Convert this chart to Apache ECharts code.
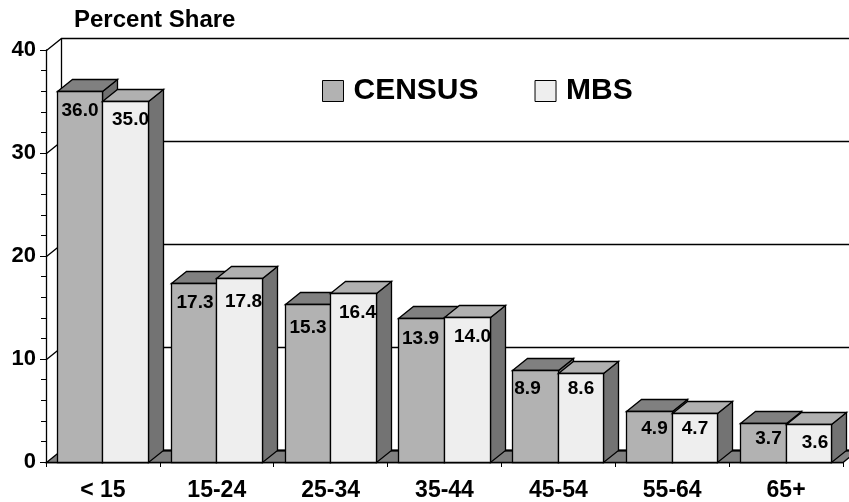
<!DOCTYPE html>
<html><head><meta charset="utf-8">
<script src="https://cdn.jsdelivr.net/npm/echarts@6/dist/echarts.min.js"></script>
<style>html,body{margin:0;padding:0;background:#fff}#c{width:849px;height:502px}</style>
</head><body><div id="c"></div>
<script>
const categories = ['< 15','15-24','25-34','35-44','45-54','55-64','65+'];
const census = [36.0,17.3,15.3,13.9,8.9,4.9,3.7];
const mbs = [35.0,17.8,16.4,14.0,8.6,4.7,3.6];
const yTicks = [0,10,20,30,40];
// hand-placed label nudges from the reference: [dx from bar centre, dy from bar top]
const censusNudge = [[0,19],[1,19],[0,23],[-1,20],[-8,18],[5,17],[5,15]];
const mbsNudge = [[5,18],[4,23],[4,19],[5,19],[0,15],[0,15],[6,18]];

const FONT = '"Liberation Sans", Arial, sans-serif';
const DX = 15, DY = -12;
const LW = 1.3;
const crisp = v => Math.floor(v) + 0.5;

function wallItem(params, api) {
  const cs = params.coordSys;
  const y = crisp(api.coord([0, api.value(1)])[1]);
  const v = api.value(1);
  const x0 = crisp(cs.x), x1 = crisp(cs.x + DX), xr = cs.x + cs.width + DX;
  const yb = y + DY;
  const children = [];
  if (v === 0) {
    children.push({type:'polygon', shape:{points:[[x0,y],[x1,yb],[xr,yb],[xr-DX,y]]},
      style:{fill:'#808080', stroke:'#000', lineWidth:LW}});
    children.push({type:'line', shape:{x1:x1,y1:yb,x2:xr,y2:yb}, style:{stroke:'#000', lineWidth:2}});
  } else {
    children.push({type:'polyline', shape:{points:[[x0,y],[x1,yb],[xr,yb]]},
      style:{fill:null, stroke:'#000', lineWidth:LW}});
  }
  if (v === yTicks[yTicks.length-1]) {
    const yBottom = crisp(api.coord([0,0])[1]) + DY;
    children.push({type:'line', shape:{x1:x1,y1:yb,x2:x1,y2:yBottom}, style:{stroke:'#000', lineWidth:LW}});
  }
  return {type:'group', children};
}

function barItem(side, front, top, wall, nudges) {
  return function (params, api) {
    const i = api.value(0), v = api.value(1);
    const base = api.coord([i, 0]);
    const topPt = api.coord([i, v]);
    const band = api.size([1, 0])[0];
    const w = band * 0.4;
    const a = crisp(base[0] + (side < 0 ? -w : 0));
    const b = crisp(base[0] + (side < 0 ? 0 : w));
    const yt = crisp(topPt[1]), yb = crisp(base[1]);
    const n = nudges[i];
    const line = {stroke:'#000', lineWidth:LW, lineJoin:'miter'};
    return {type:'group', children:[
      {type:'polygon', shape:{points:[[b,yt],[b+DX,yt+DY],[b+DX,yb+DY],[b,yb]]}, style:Object.assign({fill:wall},line)},
      {type:'polygon', shape:{points:[[a,yt],[a+DX,yt+DY],[b+DX,yt+DY],[b,yt]]}, style:Object.assign({fill:top},line)},
      {type:'rect', shape:{x:a,y:yt,width:b-a,height:yb-yt}, style:Object.assign({fill:front},line)},
      {type:'text', style:{text:v.toFixed(1), x:(a+b)/2+n[0], y:yt+n[1], align:'center', verticalAlign:'middle',
        font:'bold 19px '+FONT, fill:'#000'}}
    ]};
  };
}

const chart = echarts.init(document.getElementById('c'), null, {renderer:'canvas'});
chart.setOption({
  animation:false,
  backgroundColor:'#fff',
  title:{text:'Percent Share', left:74, top:8, padding:0,
    textStyle:{fontFamily:FONT, fontWeight:'bold', fontSize:24, color:'#000'}},
  grid:{left:46, right:6, top:50, bottom:40},
  legend:{data:['CENSUS','MBS'], left:322, top:76, padding:0, itemWidth:21, itemHeight:21, itemGap:56,
    icon:'rect', selectedMode:false,
    itemStyle:{borderColor:'#000', borderWidth:1},
    textStyle:{fontFamily:FONT, fontWeight:'bold', fontSize:30, color:'#000', padding:[0,0,0,5]}},
  xAxis:{type:'category', data:categories, boundaryGap:true,
    axisLine:{show:true, lineStyle:{color:'#000', width:LW}},
    axisTick:{show:true, length:5, lineStyle:{color:'#000'}},
    axisLabel:{interval:0, margin:17, fontFamily:FONT, fontWeight:'bold', fontSize:23, color:'#000'}},
  yAxis:{type:'value', min:0, max:40, interval:10,
    splitLine:{show:false},
    axisLine:{show:true, lineStyle:{color:'#000', width:LW}},
    axisTick:{show:true, length:6, lineStyle:{color:'#000'}},
    minorTick:{show:true, splitNumber:5, length:5, lineStyle:{color:'#000'}},
    axisLabel:{margin:10, fontFamily:FONT, fontWeight:'bold', fontSize:22, color:'#000'}},
  series:[
    {type:'custom', name:'wall', silent:true, renderItem:wallItem, encode:{x:0,y:1},
      data:yTicks.map(v=>[0,v]), z:1},
    {type:'custom', name:'CENSUS', renderItem:barItem(-1,'#b2b2b2','#808080','#707070',censusNudge),
      encode:{x:0,y:1}, itemStyle:{color:'#b2b2b2'}, data:census.map((v,i)=>[i,v]), z:2},
    {type:'custom', name:'MBS', renderItem:barItem(1,'#eeeeee','#b0b0b0','#737373',mbsNudge),
      encode:{x:0,y:1}, itemStyle:{color:'#eeeeee'}, data:mbs.map((v,i)=>[i,v]), z:3}
  ]
});
</script></body></html>
